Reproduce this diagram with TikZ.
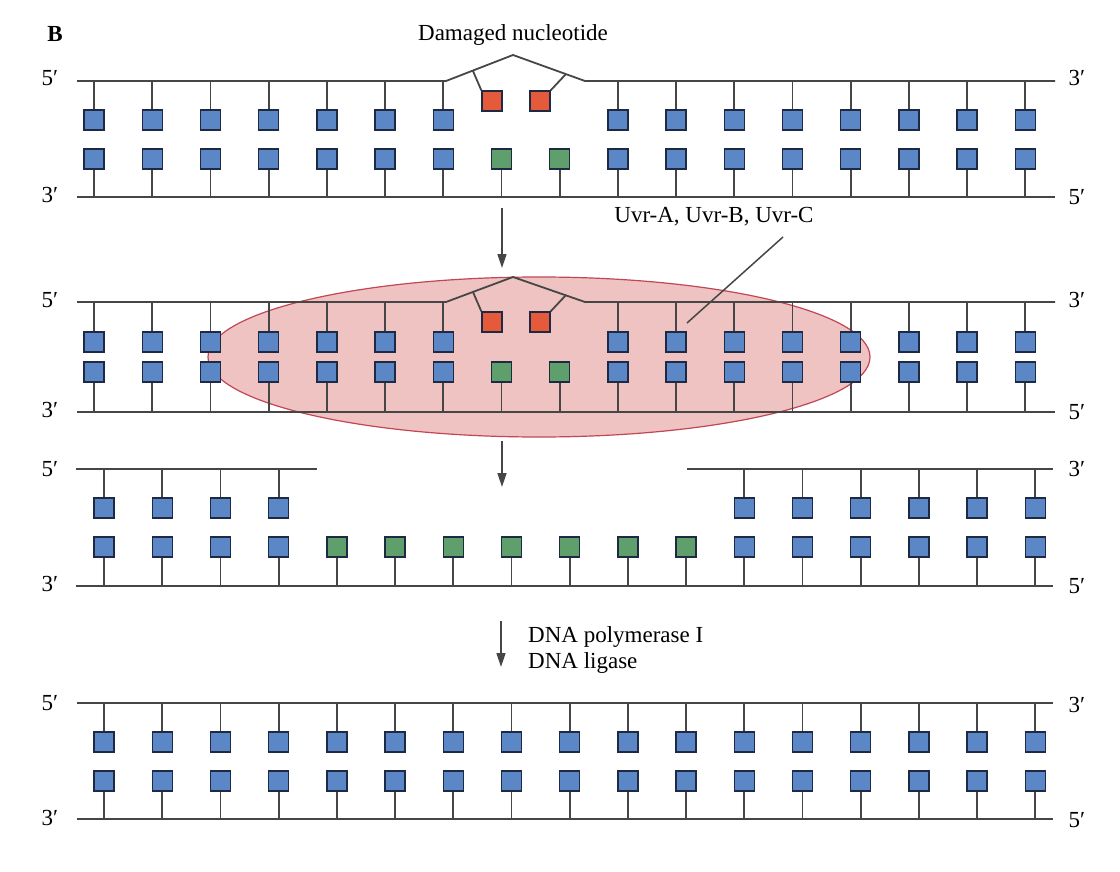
\documentclass[tikz,border=0pt]{standalone}
\usepackage{fontspec}
\setmainfont{Liberation Serif}
\usetikzlibrary{
  arrows.meta,
  positioning,
  shapes.geometric
}

\definecolor{base-blue}{HTML}{5B87C7}
\definecolor{base-edge}{HTML}{1E2A44}
\definecolor{damaged-red}{HTML}{E65A3C}
\definecolor{repaired-green}{HTML}{5F9F6B}
\definecolor{strand-gray}{HTML}{464646}
\definecolor{uvr-fill}{HTML}{EEC3C1}
\definecolor{uvr-edge}{HTML}{C24656}

\tikzset{
  base/.style={
    rectangle,
    draw=base-edge,
    line width=1.4pt,
    fill=base-blue,
    minimum size=20pt,
    inner sep=0pt
  },
  damaged/.style={base, fill=damaged-red},
  repaired/.style={base, fill=repaired-green},
  strand/.style={draw=strand-gray, line width=1.8pt},
  label-text/.style={font=\fontsize{23}{26}\selectfont, inner sep=0pt},
  step-arrow/.style={strand, line width=1.6pt, -{Triangle[length=14pt,width=9pt]}}
}

\begin{document}
\begin{tikzpicture}[x=1pt, y=-1pt, node distance=1em]
\useasboundingbox (0,0) rectangle (1120,872);

% labels
\node [label-text, font=\fontsize{23}{26}\selectfont\bfseries] (panel-letter) at (55,34) {B};
\node [label-text] (damaged-label) at (513,35) {Damaged nucleotide};

% excision complex
\node [ellipse, draw=uvr-edge, line width=1.2pt, fill=uvr-fill,
  minimum width=662pt, minimum height=160pt] (uvr-complex) at (539,357) {};

% ---- panel 1: damaged DNA ----
\coordinate (p1-top) at (77,81);
\coordinate (p1-bottom) at (77,197);
\coordinate (p1-peak) at (513,55);
\coordinate (p1-fork-left) at (473,71);
\coordinate (p1-fork-right) at (566,74);
\draw [strand] (p1-top) -- (446,81) -- (p1-peak) -- (585,81) -- (1055,81);
\draw [strand] (p1-bottom) -- (1055,197);
\foreach \i in {0,...,6,9,10,11,12,13,14,15,16} {
  \node [base] (p1-upper-\i) at ({94+58.2*\i},120) {};
  \draw [strand] (p1-upper-\i.north) -- (p1-upper-\i.north |- p1-top);
}
\foreach \i in {0,...,16} {
  \node [base] (p1-lower-\i) at ({94+58.2*\i},159) {};
  \draw [strand] (p1-lower-\i.south) -- (p1-lower-\i.south |- p1-bottom);
}
\node [repaired] at (p1-lower-7) {};
\node [repaired] at (p1-lower-8) {};
\node [damaged] (p1-damaged-a) at (492,101) {};
\node [damaged] (p1-damaged-b) at (540,101) {};
\draw [strand] (p1-fork-left) -- (p1-damaged-a.north west);
\draw [strand] (p1-fork-right) -- (p1-damaged-b.north east);

\node [label-text] (p1-five-left) at (50,78) {5′};
\node [label-text] (p1-three-left) at (50,195) {3′};
\node [label-text] (p1-three-right) at (1077,78) {3′};
\node [label-text] (p1-five-right) at (1077,197) {5′};

\coordinate (arrow-1-start) at (502,208);
\coordinate (arrow-1-end) at (502,268);
\draw [step-arrow] (arrow-1-start) -- (arrow-1-end);

\node [label-text] (uvr-label) at (714,217) {Uvr-A, Uvr-B, Uvr-C};
\coordinate (uvr-leader) at (783,237);
\coordinate (uvr-pointer) at (687,323);
\draw [strand, line width=1.5pt] (uvr-leader) -- (uvr-pointer);

% ---- panel 2: Uvr-ABC bound ----
\coordinate (p2-top) at (77,302);
\coordinate (p2-bottom) at (77,412);
\coordinate (p2-peak) at (513,277);
\coordinate (p2-fork-left) at (473,292);
\coordinate (p2-fork-right) at (566,295);
\draw [strand] (p2-top) -- (446,302) -- (p2-peak) -- (585,302) -- (1055,302);
\draw [strand] (p2-bottom) -- (1055,412);
\foreach \i in {0,...,6,9,10,11,12,13,14,15,16} {
  \node [base] (p2-upper-\i) at ({94+58.2*\i},342) {};
  \draw [strand] (p2-upper-\i.north) -- (p2-upper-\i.north |- p2-top);
}
\foreach \i in {0,...,16} {
  \node [base] (p2-lower-\i) at ({94+58.2*\i},372) {};
  \draw [strand] (p2-lower-\i.south) -- (p2-lower-\i.south |- p2-bottom);
}
\node [repaired] at (p2-lower-7) {};
\node [repaired] at (p2-lower-8) {};
\node [damaged] (p2-damaged-a) at (492,322) {};
\node [damaged] (p2-damaged-b) at (540,322) {};
\draw [strand] (p2-fork-left) -- (p2-damaged-a.north west);
\draw [strand] (p2-fork-right) -- (p2-damaged-b.north east);

\node [label-text] (p2-five-left) at (50,300) {5′};
\node [label-text] (p2-three-left) at (50,410) {3′};
\node [label-text] (p2-three-right) at (1077,300) {3′};
\node [label-text] (p2-five-right) at (1077,412) {5′};

\coordinate (arrow-2-start) at (502,441);
\coordinate (arrow-2-end) at (502,487);
\draw [step-arrow] (arrow-2-start) -- (arrow-2-end);

% ---- panel 3: gap excised ----
\coordinate (p3-top-left) at (76,469);
\coordinate (p3-top-right) at (687,469);
\coordinate (p3-bottom) at (76,586);
\draw [strand] (p3-top-left) -- (317,469);
\draw [strand] (p3-top-right) -- (1053,469);
\draw [strand] (p3-bottom) -- (1053,586);
\foreach \i in {0,...,3,11,12,13,14,15,16} {
  \node [base] (p3-upper-\i) at ({104+58.2*\i},508) {};
  \draw [strand] (p3-upper-\i.north) -- (p3-upper-\i.north |- p3-top-left);
}
\foreach \i in {0,...,16} {
  \node [base] (p3-lower-\i) at ({104+58.2*\i},547) {};
  \draw [strand] (p3-lower-\i.south) -- (p3-lower-\i.south |- p3-bottom);
}
\foreach \i in {4,...,10} {
  \node [repaired] at (p3-lower-\i) {};
}

\node [label-text] (p3-five-left) at (50,469) {5′};
\node [label-text] (p3-three-left) at (50,584) {3′};
\node [label-text] (p3-three-right) at (1077,469) {3′};
\node [label-text] (p3-five-right) at (1077,586) {5′};

\coordinate (arrow-3-start) at (501,621);
\coordinate (arrow-3-end) at (501,667);
\draw [step-arrow] (arrow-3-start) -- (arrow-3-end);
\node [label-text, anchor=west, align=left] (repair-label) at (528,650) {DNA polymerase I\\DNA ligase};

% ---- panel 4: repaired DNA ----
\coordinate (p4-top) at (77,703);
\coordinate (p4-bottom) at (77,819);
\draw [strand] (p4-top) -- (1053,703);
\draw [strand] (p4-bottom) -- (1053,819);
\foreach \i in {0,...,16} {
  \node [base] (p4-upper-\i) at ({104+58.2*\i},742) {};
  \draw [strand] (p4-upper-\i.north) -- (p4-upper-\i.north |- p4-top);
  \node [base] (p4-lower-\i) at ({104+58.2*\i},781) {};
  \draw [strand] (p4-lower-\i.south) -- (p4-lower-\i.south |- p4-bottom);
}

\node [label-text] (p4-five-left) at (50,703) {5′};
\node [label-text] (p4-three-left) at (50,818) {3′};
\node [label-text] (p4-three-right) at (1077,705) {3′};
\node [label-text] (p4-five-right) at (1077,820) {5′};

\end{tikzpicture}
\end{document}
